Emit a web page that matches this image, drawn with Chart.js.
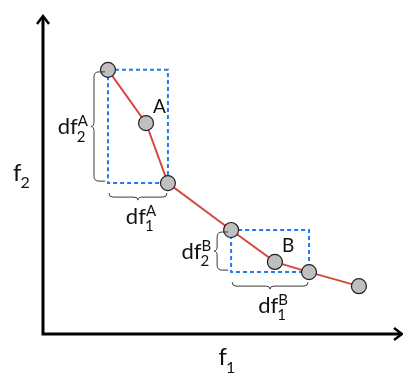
<!DOCTYPE html>
<html>
<head>
<meta charset="utf-8">
<script src="https://cdn.jsdelivr.net/npm/chart.js@4"></script>
<style>
  body { margin: 0; background: #fff; }
  canvas { display: block; }
</style>
</head>
<body>
<canvas id="front" width="403" height="374"></canvas>
<script>
// Pareto front, values in arbitrary objective units (0..10 on both axes)
const f1 = [1.81, 2.87, 3.48, 5.24, 6.46, 7.41, 8.80];
const f2 = [8.28, 6.61, 4.73, 3.26, 2.26, 1.94, 1.50];
// points that get a crowding box (built from their two neighbours)
const boxedIndex = [1, 4];
const boxedName = ['A', 'B'];

const FONT = 'Lato, "Open Sans", sans-serif';

const boxDatasets = boxedIndex.map((i, k) => {
    const x0 = f1[i - 1], x1 = f1[i + 1];
    const y0 = f2[i - 1], y1 = f2[i + 1];
    return {
        label: 'box ' + boxedName[k],
        data: [
            { x: x0, y: y0 }, { x: x1, y: y0 }, { x: x1, y: y1 },
            { x: x0, y: y1 }, { x: x0, y: y0 }
        ],
        showLine: true,
        borderColor: '#2479f2',
        borderWidth: 2,
        borderDash: [4, 3],
        pointRadius: 0,
        fill: false,
        order: 1
    };
});

// curly brace from (x1,y1) to (x2,y2), bulging to the left of the travel direction
function drawBrace(ctx, x1, y1, x2, y2, hook, tip) {
    const L = Math.hypot(x2 - x1, y2 - y1);
    const r = Math.min(hook, 5);
    ctx.save();
    ctx.translate(x1, y1);
    ctx.rotate(Math.atan2(y2 - y1, x2 - x1));
    ctx.beginPath();
    ctx.moveTo(0, 0);
    ctx.lineTo(0, hook - r);
    ctx.quadraticCurveTo(0, hook, r, hook);
    ctx.lineTo(L / 2 - r, hook);
    ctx.quadraticCurveTo(L / 2, hook, L / 2, hook + tip);
    ctx.quadraticCurveTo(L / 2, hook, L / 2 + r, hook);
    ctx.lineTo(L - r, hook);
    ctx.quadraticCurveTo(L, hook, L, hook - r);
    ctx.lineTo(L, 0);
    ctx.strokeStyle = '#3a3a3a';
    ctx.lineWidth = 1;
    ctx.stroke();
    ctx.restore();
}

function symWidth(ctx, base, sub, sup, size) {
    ctx.font = size + 'px ' + FONT;
    const w = ctx.measureText(base).width;
    ctx.font = Math.round(size * 0.68) + 'px ' + FONT;
    return w - 1 + Math.max(ctx.measureText(sub || '').width, ctx.measureText(sup || '').width + 1);
}

function drawSym(ctx, left, baseline, base, sub, sup, size) {
    ctx.fillStyle = '#111';
    ctx.textAlign = 'left';
    ctx.textBaseline = 'alphabetic';
    ctx.font = size + 'px ' + FONT;
    ctx.fillText(base, left, baseline);
    const sx = left + ctx.measureText(base).width - 1;
    ctx.font = Math.round(size * 0.68) + 'px ' + FONT;
    if (sub) ctx.fillText(sub, sx, baseline + size * 0.32);
    if (sup) ctx.fillText(sup, sx + 1, baseline - size * 0.38);
}

const decorations = {
    id: 'decorations',
    beforeDatasetsDraw(chart) {
        const { ctx, chartArea: a } = chart;
        ctx.save();
        ctx.strokeStyle = '#000';
        ctx.lineWidth = 3;
        ctx.lineCap = 'butt';
        ctx.beginPath();
        ctx.moveTo(a.left, a.top + 2);
        ctx.lineTo(a.left, a.bottom);
        ctx.lineTo(a.right - 2, a.bottom);
        ctx.stroke();
        // arrow heads
        ctx.lineWidth = 2.5;
        ctx.beginPath();
        ctx.moveTo(a.left - 6, a.top + 9);
        ctx.lineTo(a.left, a.top + 1);
        ctx.lineTo(a.left + 6, a.top + 9);
        ctx.moveTo(a.right - 8, a.bottom - 6);
        ctx.lineTo(a.right, a.bottom);
        ctx.lineTo(a.right - 8, a.bottom + 6);
        ctx.stroke();
        ctx.restore();
    },
    afterDatasetsDraw(chart) {
        const { ctx, chartArea: a, scales: { x, y } } = chart;
        ctx.save();
        boxedIndex.forEach((i, k) => {
            const name = boxedName[k];
            const left = x.getPixelForValue(f1[i - 1]);
            const right = x.getPixelForValue(f1[i + 1]);
            const top = y.getPixelForValue(f2[i - 1]);
            const bottom = y.getPixelForValue(f2[i + 1]);
            const vx = left - 3;
            const vHook = 11, hHook = 4, tip = 3;
            // vertical brace on the left, pointing left
            drawBrace(ctx, vx, top + 2, vx, bottom - 2, vHook, tip);
            // horizontal brace below, pointing down
            const hy = bottom + 10;
            drawBrace(ctx, left + 1, hy, right - 1, hy, hHook, tip);

            // df2 label left of vertical brace
            const tipX = vx - vHook - tip;
            const midY = (top + bottom) / 2;
            const w2 = symWidth(ctx, 'df', '2', name, 22);
            drawSym(ctx, tipX - 3 - w2, midY + 8, 'df', '2', name, 22);
            // df1 label under horizontal brace
            const w1 = symWidth(ctx, 'df', '1', name, 22);
            drawSym(ctx, (left + right) / 2 + 3 - w1 / 2, hy + hHook + tip + 24, 'df', '1', name, 22);

            // point name
            ctx.fillStyle = '#111';
            ctx.font = '19px ' + FONT;
            ctx.textAlign = 'left';
            ctx.fillText(name, x.getPixelForValue(f1[i]) + 7, y.getPixelForValue(f2[i]) - 10);
        });

        // axis titles
        drawSym(ctx, 13, (a.top + a.bottom) / 2 + 6, 'f', '2', '', 24);
        drawSym(ctx, (a.left + a.right) / 2 - 4, a.bottom + 31, 'f', '1', '', 24);
        ctx.restore();
    }
};

new Chart(document.getElementById('front'), {
    type: 'scatter',
    data: {
        datasets: [{
            label: 'front',
            data: f1.map((v, i) => ({ x: v, y: f2[i] })),
            showLine: true,
            borderColor: '#d6493f',
            borderWidth: 2,
            pointRadius: 7.5,
            pointBackgroundColor: '#bfbfbf',
            pointBorderColor: '#222',
            pointBorderWidth: 1.2,
            order: 0
        }, ...boxDatasets]
    },
    options: {
        responsive: false,
        animation: false,
        events: [],
        layout: { autoPadding: false, padding: { left: 43, top: 15, right: 1, bottom: 40 } },
        scales: {
            x: { type: 'linear', min: 0, max: 10, display: false },
            y: { type: 'linear', min: 0, max: 10, display: false }
        },
        plugins: {
            legend: { display: false },
            tooltip: { enabled: false }
        }
    },
    plugins: [decorations]
});
</script>
</body>
</html>
